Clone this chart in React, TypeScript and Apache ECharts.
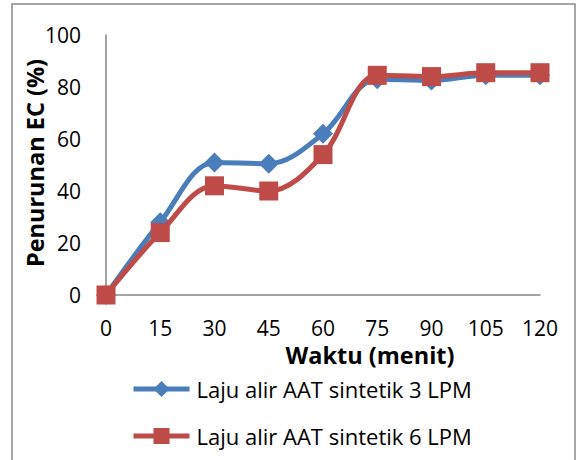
import React, { useEffect, useRef } from "react";
import * as echarts from "echarts";

const categories = ["0", "15", "30", "45", "60", "75", "90", "105", "120"];
const series3LPM = [0, 28, 51, 50.5, 62, 83, 82.5, 84.5, 84.5];
const series6LPM = [0, 24, 42, 40, 54, 84.5, 84, 85.5, 85.5];
const seriesNames = ["Laju alir AAT sintetik 3 LPM", "Laju alir AAT sintetik 6 LPM"];
const yTitle = "Penurunan EC (%)";
const xTitle = "Waktu (menit)";

const FONT = "'Open Sans', 'Liberation Sans', sans-serif";

export default function App() {
  const ref = useRef<HTMLDivElement>(null);
  useEffect(() => {
    if (!ref.current) return;
    const chart = echarts.init(ref.current, null, { renderer: "svg" });
    chart.setOption({
      animation: false,
      backgroundColor: "#ffffff",
      grid: { left: 106, right: 37, top: 35, bottom: 165, containLabel: false },
      xAxis: {
        type: "category",
        data: categories,
        boundaryGap: false,
        axisLine: { lineStyle: { color: "#868686", width: 1.5 } },
        axisTick: { show: false },
        axisLabel: { color: "#000", fontSize: 21, fontFamily: FONT, margin: 22 },
        splitLine: { show: false },
      },
      yAxis: {
        type: "value",
        min: 0,
        max: 100,
        interval: 20,
        axisLine: { show: true, lineStyle: { color: "#868686", width: 1.5 } },
        axisTick: { show: false },
        axisLabel: { color: "#000", fontSize: 21, fontFamily: FONT, margin: 25 },
        splitLine: { show: false },
      },
      legend: {
        orient: "vertical",
        left: 131,
        top: 378,
        padding: 0,
        itemGap: 25,
        itemWidth: 56,
        itemHeight: 20,
        lineStyle: { width: 5 },
        textStyle: { color: "#000", fontSize: 22, fontFamily: FONT, padding: [0, 0, 0, 2] },
        data: seriesNames,
      },
      graphic: [
        {
          type: "rect",
          shape: { x: 12, y: 4, width: 563, height: 470 },
          style: { fill: "none", stroke: "#8a8a8a", lineWidth: 1.5 },
          silent: true,
        },
        {
          type: "text",
          x: 35,
          y: 163,
          rotation: Math.PI / 2,
          style: {
            text: yTitle,
            fill: "#000",
            font: `bold 23.5px ${FONT}`,
            align: "center",
            verticalAlign: "middle",
          },
        },
        {
          type: "text",
          x: 370,
          y: 355,
          style: {
            text: xTitle,
            fill: "#000",
            font: `bold 23.5px ${FONT}`,
            align: "center",
            verticalAlign: "middle",
          },
        },
      ],
      series: [
        {
          name: seriesNames[0],
          type: "line",
          data: series3LPM,
          smooth: 0.35,
          symbol: "diamond",
          symbolSize: 20,
          itemStyle: { color: "#4a7ebb" },
          lineStyle: { color: "#4a7ebb", width: 5 },
          z: 2,
        },
        {
          name: seriesNames[1],
          type: "line",
          data: series6LPM,
          smooth: 0.35,
          symbol: "rect",
          symbolSize: 19,
          itemStyle: { color: "#be4b48" },
          lineStyle: { color: "#be4b48", width: 5 },
          z: 3,
        },
      ],
    });
    return () => chart.dispose();
  }, []);
  return (
    <div
      ref={ref}
      style={{ position: "absolute", left: 0, top: 0, width: 577, height: 460 }}
    />
  );
}
